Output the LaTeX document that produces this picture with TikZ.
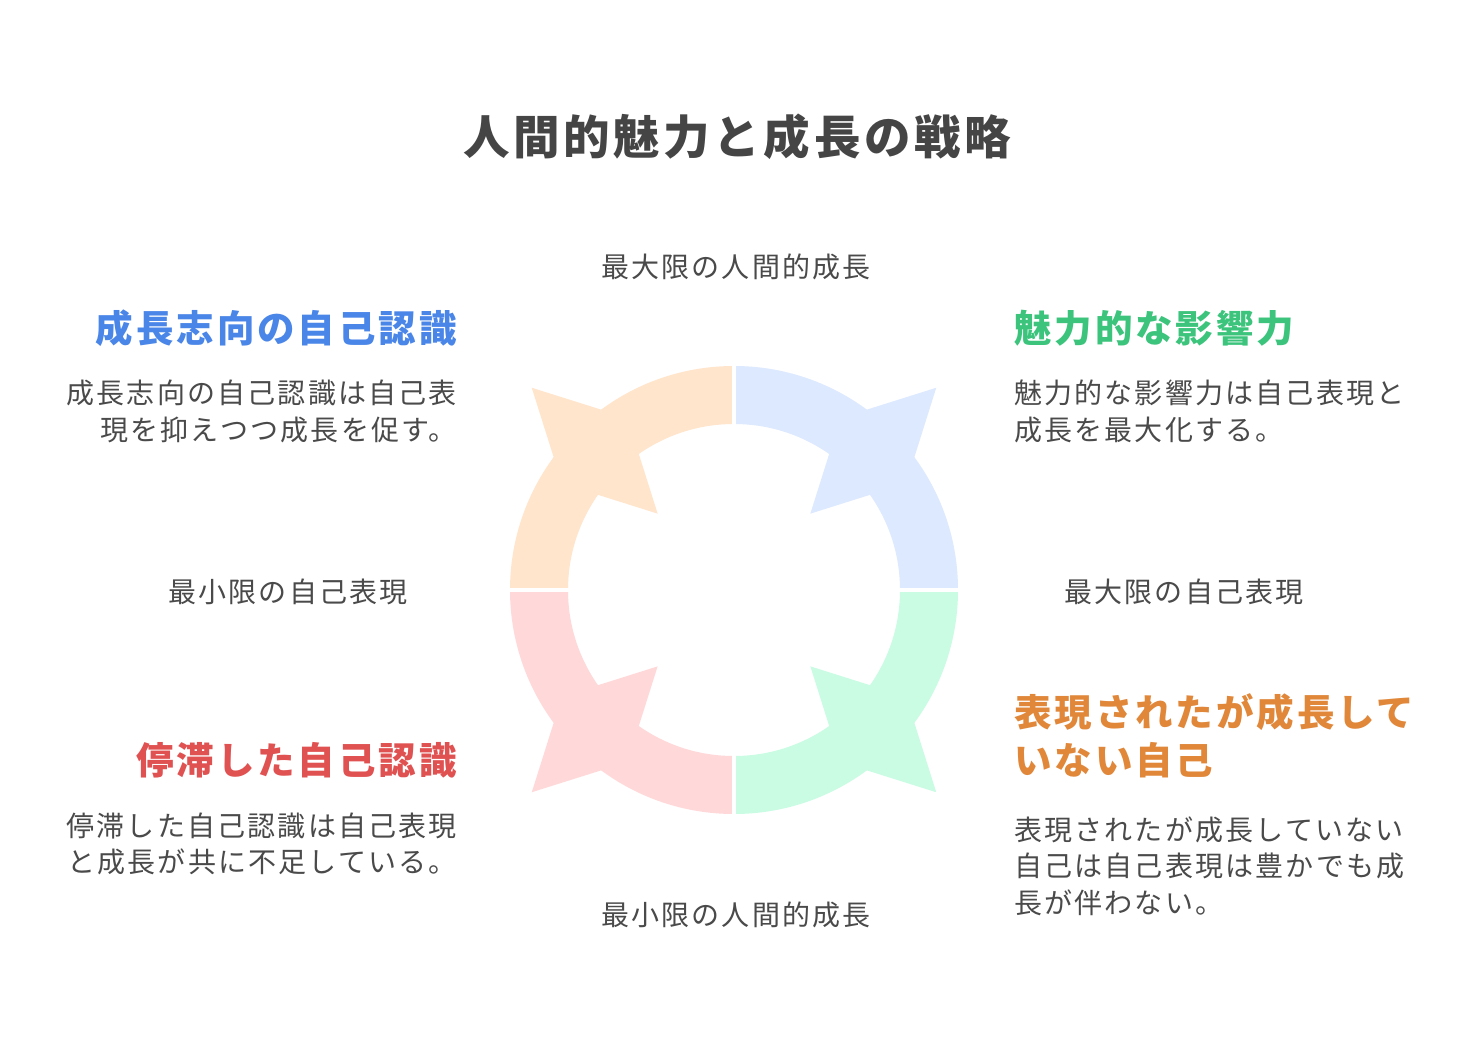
\documentclass[tikz,border=0pt]{standalone}
\usepackage{fontspec}
\setmainfont{Noto Sans CJK JP}[LetterSpace=7.8]
\usetikzlibrary{calc}
\definecolor{txt}{HTML}{4A4A4A}
\definecolor{ttl}{HTML}{454545}
\definecolor{hblue}{HTML}{4A86E8}
\definecolor{hgreen}{HTML}{3CC47C}
\definecolor{horange}{HTML}{E0873A}
\definecolor{hred}{HTML}{E05252}
\definecolor{fblue}{HTML}{DCE9FE}
\definecolor{fpeach}{HTML}{FFE5CC}
\definecolor{fpink}{HTML}{FFD9DA}
\definecolor{fgreen}{HTML}{C9FCE3}
\tikzset{
  body/.style={inner sep=0pt, text=txt, font=\fontsize{28}{36}\selectfont},
  head/.style={inner sep=0pt, font=\fontsize{37.5}{48}\selectfont\bfseries},
  ttlstyle/.style={inner sep=0pt, text=ttl, font=\fontsize{46.5}{52}\selectfont\bfseries},
}
\begin{document}
\begin{tikzpicture}[x=1pt,y=-1pt]
\useasboundingbox[fill=white] (0,0) rectangle (1469,1036);
% ring
\begin{scope}[shift={(734,590)},yscale=-1]
  \foreach \a/\c in {0/fblue,90/fpeach,180/fpink,270/fgreen}{
    \fill[\c] (\a:224) arc[start angle=\a,end angle=\a+90,radius=224]
      -- (\a+90:166) arc[start angle=\a+90,end angle=\a,radius=166] -- cycle;
    \fill[\c] (\a+45:108) -- (\a+58.23:202.4) -- (\a+45:286) -- (\a+31.77:202.4) -- cycle;
  }
  \draw[white,line width=4pt] (0,-230) -- (0,230);
  \draw[white,line width=4pt] (-230,0) -- (230,0);
\end{scope}
% title
\node[ttlstyle,anchor=base] (title) at (737,154) {人間的魅力と成長の戦略};
% axis labels
\node[body,anchor=base] (top) at (736,277) {最大限の人間的成長};
\node[body,anchor=base] (bottom) at (736,925) {最小限の人間的成長};
\node[body,anchor=base] (left) at (288,602) {最小限の自己表現};
\node[body,anchor=base] (right) at (1184,602) {最大限の自己表現};
% top-left
\node[head,text=hblue,anchor=base east] (h1) at (457,342) {成長志向の自己認識};
\node[body,anchor=base east] (b1a) at (457,403) {成長志向の自己認識は自己表};
\node[body,anchor=base east] (b1b) at (457,440) {現を抑えつつ成長を促す。};
% bottom-left
\node[head,text=hred,anchor=base east] (h2) at (457,774) {停滞した自己認識};
\node[body,anchor=base east] (b2a) at (457,836) {停滞した自己認識は自己表現};
\node[body,anchor=base east] (b2b) at (457,872) {と成長が共に不足している。};
% top-right
\node[head,text=hgreen,anchor=base west] (h3) at (1014,342) {魅力的な影響力};
\node[body,anchor=base west] (b3a) at (1014,403) {魅力的な影響力は自己表現と};
\node[body,anchor=base west] (b3b) at (1014,440) {成長を最大化する。};
% bottom-right
\node[head,text=horange,anchor=base west] (h4a) at (1014,726) {表現されたが成長して};
\node[head,text=horange,anchor=base west] (h4b) at (1014,774) {いない自己};
\node[body,anchor=base west] (b4a) at (1014,840) {表現されたが成長していない};
\node[body,anchor=base west] (b4b) at (1014,876) {自己は自己表現は豊かでも成};
\node[body,anchor=base west] (b4c) at (1014,913) {長が伴わない。};
\end{tikzpicture}
\end{document}
